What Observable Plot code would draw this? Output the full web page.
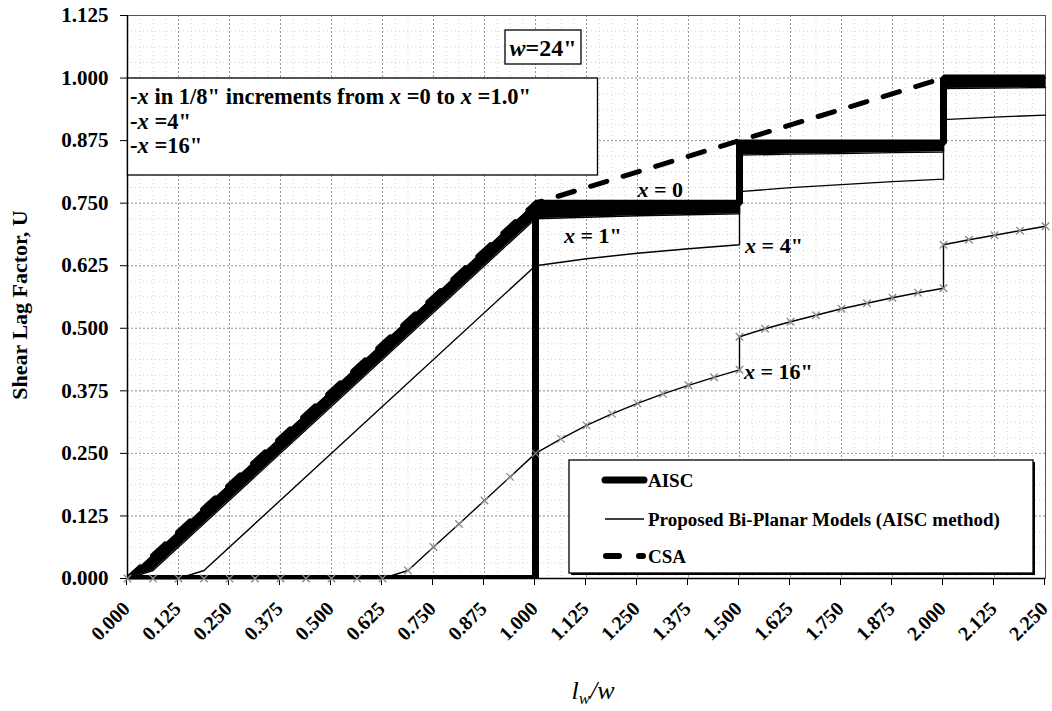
<!DOCTYPE html>
<html>
<head>
<meta charset="utf-8">
<script src="https://cdn.jsdelivr.net/npm/d3@7"></script>
<script src="https://cdn.jsdelivr.net/npm/@observablehq/plot@0.6"></script>
<style>
  html, body { margin: 0; padding: 0; background: #fff; }
  svg { display: block; }
</style>
</head>
<body>
<div id="chart"></div>
<script>
// ---------- data ----------
const lwTicks = [0, 0.125, 0.25, 0.375, 0.5, 0.625, 0.75, 0.875, 1.0, 1.125, 1.25, 1.375, 1.5, 1.625, 1.75, 1.875, 2.0, 2.125, 2.25];
const lwTickLabels = ["0.000","0.125","0.250","0.375","0.500","0.625","0.750","0.875","1.000","1.125","1.250","1.375","1.500","1.625","1.750","1.875","2.000","2.125","2.250"];
const uTicks = [0, 0.125, 0.25, 0.375, 0.5, 0.625, 0.75, 0.875, 1.0, 1.125];
const uTickLabels = ["0.000","0.125","0.250","0.375","0.500","0.625","0.750","0.875","1.000","1.125"];

// AISC (thick)
const aiscLw = [0, 1.0, 1.0, 1.5, 1.5, 2.0, 2.0, 2.25];
const aiscU  = [0, 0,   0.75, 0.75, 0.87, 0.87, 1.0, 1.0];

// CSA (dashed)
const csaLw = [0, 1.0, 2.0, 2.25];
const csaU  = [0, 0.75, 1.0, 1.0];

// Proposed bi-planar models, x = 0 ... 1.0" (band between x = 0 and x = 1")
const bandLw      = [0, 0.0625, 1.0, 1.125, 1.25, 1.375, 1.5, 1.5, 1.625, 1.75, 1.875, 2.0, 2.0, 2.125, 2.25];
const bandTopU    = [0, 0.047, 0.75, 0.75, 0.75, 0.75, 0.75, 0.87, 0.87, 0.87, 0.87, 0.87, 1.0, 1.0, 1.0];
const bandBottomU = [0, 0.016, 0.719, 0.722, 0.725, 0.727, 0.729, 0.846, 0.848, 0.849, 0.851, 0.852, 0.979, 0.980, 0.981];

// Proposed bi-planar model, x = 4"
const x4Lw = [0, 0.125, 0.1875, 1.0, 1.125, 1.25, 1.375, 1.5, 1.5, 1.625, 1.75, 1.875, 2.0, 2.0, 2.125, 2.25];
const x4U  = [0, 0, 0.016, 0.625, 0.639, 0.65, 0.659, 0.667, 0.773, 0.781, 0.787, 0.793, 0.798, 0.917, 0.922, 0.926];

// Proposed bi-planar model, x = 16" (with markers)
const x16Lw = [0, 0.0625, 0.125, 0.1875, 0.25, 0.3125, 0.375, 0.4375, 0.5, 0.5625, 0.625, 0.6875, 0.75, 0.8125, 0.875, 0.9375, 1.0, 1.0625, 1.125, 1.1875, 1.25, 1.3125, 1.375, 1.4375, 1.5, 1.5, 1.5625, 1.625, 1.6875, 1.75, 1.8125, 1.875, 1.9375, 2.0, 2.0, 2.0625, 2.125, 2.1875, 2.25];
const x16U  = [0, 0, 0, 0, 0, 0, 0, 0, 0, 0, 0, 0.016, 0.063, 0.109, 0.156, 0.203, 0.25, 0.279, 0.306, 0.329, 0.35, 0.369, 0.386, 0.402, 0.417, 0.483, 0.499, 0.513, 0.526, 0.539, 0.55, 0.561, 0.571, 0.58, 0.667, 0.677, 0.686, 0.695, 0.704];

// curve labels
const curveLabels = [
  {lw: 1.307, u: 0.776, text: " = 0", anchor: "middle"},
  {lw: 1.142, u: 0.684, text: " = 1\"", anchor: "middle"},
  {lw: 1.515, u: 0.665, text: " = 4\"", anchor: "start"},
  {lw: 1.512, u: 0.414, text: " = 16\"", anchor: "start"}
];

// ---------- build tables ----------
const zip = (xs, ys) => xs.map((x, i) => ({lw: x, u: ys[i]}));
const aisc = zip(aiscLw, aiscU);
const csa = zip(csaLw, csaU);
const band = bandLw.map((x, i) => ({lw: x, top: bandTopU[i], bottom: bandBottomU[i]}));
const bandTop = zip(bandLw, bandTopU);
const bandBottom = zip(bandLw, bandBottomU);
const x4 = zip(x4Lw, x4U);
const x16 = zip(x16Lw, x16U);

const minorLw = d3.range(0, 2.25 + 1e-9, 0.03125);
const minorU = d3.range(0, 1.125 + 1e-9, 0.03125);

const lwLabelMap = new Map(lwTicks.map((t, i) => [t, lwTickLabels[i]]));
const uLabelMap = new Map(uTicks.map((t, i) => [t, uTickLabels[i]]));

const FONT = "Liberation Serif, Times New Roman, serif";

const chart = Plot.plot({
  width: 1052,
  height: 711,
  marginLeft: 127,
  marginRight: 7,
  marginTop: 15,
  marginBottom: 133,
  style: {fontFamily: FONT, color: "#000", background: "#fff"},
  x: {domain: [0, 2.25]},
  y: {domain: [0, 1.125]},
  marks: [
    Plot.gridX(minorLw, {stroke: "#d4d4d4", strokeOpacity: 1, strokeDasharray: "1,3"}),
    Plot.gridY(minorU, {stroke: "#d4d4d4", strokeOpacity: 1, strokeDasharray: "1,3"}),
    Plot.gridX(lwTicks, {stroke: "#999", strokeOpacity: 1, strokeDasharray: "2,2"}),
    Plot.gridY(uTicks, {stroke: "#999", strokeOpacity: 1, strokeDasharray: "2,2"}),
    Plot.frame({stroke: "#555", strokeWidth: 1}),
    Plot.ruleX([0], {stroke: "#000", strokeWidth: 1.5}),
    Plot.ruleY([0], {stroke: "#000", strokeWidth: 1.5}),
    Plot.axisX({ticks: lwTicks, tickFormat: d => lwLabelMap.get(d), tickRotate: -45, tickSize: 7, tickPadding: 20,
      fontSize: 20, fontWeight: "bold", dx: -1, label: null}),
    Plot.axisY({ticks: uTicks, tickFormat: d => uLabelMap.get(d), tickSize: 7, tickPadding: 12,
      fontSize: 21, fontWeight: "bold", label: null}),
    // x = 16" model
    Plot.line(x16, {x: "lw", y: "u", stroke: "#000", strokeWidth: 1.4}),
    // x = 4" model
    Plot.line(x4, {x: "lw", y: "u", stroke: "#000", strokeWidth: 1.4}),
    // x = 0 .. 1" models (band)
    Plot.areaY(band, {x: "lw", y1: "bottom", y2: "top", fill: "#000", curve: "linear"}),
    Plot.line(bandTop, {x: "lw", y: "u", stroke: "#000", strokeWidth: 1.4}),
    Plot.line(bandBottom, {x: "lw", y: "u", stroke: "#000", strokeWidth: 1.4}),
    // AISC
    Plot.line(aisc, {x: "lw", y: "u", stroke: "#000", strokeWidth: 7, strokeLinejoin: "miter", strokeLinecap: "butt", clip: true}),
    // CSA
    Plot.line(csa, {x: "lw", y: "u", stroke: "#000", strokeWidth: 5, strokeDasharray: "17,17", strokeLinecap: "round", clip: true}),
    // markers on x = 16"
    Plot.dot(x16, {x: "lw", y: "u", symbol: "times", r: 3.5, stroke: "#8a8a8a", strokeWidth: 1.3})
  ]
});

document.getElementById("chart").appendChild(chart);

// ---------- annotations ----------
const svg = d3.select(chart);
const sx = chart.scale("x"), sy = chart.scale("y");

// info box
const g1 = svg.append("g").attr("font-family", FONT).attr("font-weight", "bold").attr("font-size", 22.5)
  .attr("text-anchor", "start");
g1.append("rect").attr("x", 127.5).attr("y", 78).attr("width", 470).attr("height", 97)
  .attr("fill", "#fff").attr("stroke", "#000").attr("stroke-width", 1.3);
const infoLines = [
  ["-", {i: "x"}, " in 1/8\" increments from ", {i: "x"}, " =0 to ", {i: "x"}, " =1.0\""],
  ["-", {i: "x"}, " =4\""],
  ["-", {i: "x"}, " =16\""]
];
infoLines.forEach((parts, k) => {
  const t = g1.append("text").attr("x", 130).attr("y", 104 + k * 24.5).attr("text-anchor", "start");
  parts.forEach(p => {
    if (typeof p === "string") t.append("tspan").text(p);
    else t.append("tspan").attr("font-style", "italic").text(p.i);
  });
});

// w = 24" box
const g2 = svg.append("g").attr("font-family", FONT).attr("font-weight", "bold").attr("font-size", 24);
g2.append("rect").attr("x", 505).attr("y", 30).attr("width", 76).attr("height", 34)
  .attr("fill", "#fff").attr("stroke", "#000").attr("stroke-width", 1.3);
const wt = g2.append("text").attr("x", 543).attr("y", 56).attr("text-anchor", "middle");
wt.append("tspan").attr("font-style", "italic").text("w");
wt.append("tspan").text("=24\"");

// curve labels
const g3 = svg.append("g").attr("font-family", FONT).attr("font-weight", "bold").attr("font-size", 22);
curveLabels.forEach(d => {
  const t = g3.append("text").attr("x", sx.apply(d.lw)).attr("y", sy.apply(d.u))
    .attr("dy", "0.35em").attr("text-anchor", d.anchor);
  t.append("tspan").attr("font-style", "italic").text("x");
  t.append("tspan").text(d.text);
});

// legend
const g4 = svg.append("g").attr("font-family", FONT).attr("font-weight", "bold").attr("font-size", 19)
  .attr("text-anchor", "start");
g4.append("rect").attr("x", 571).attr("y", 462).attr("width", 464).attr("height", 113).attr("fill", "#000");
g4.append("rect").attr("x", 569).attr("y", 460).attr("width", 464).attr("height", 113)
  .attr("fill", "#fff").attr("stroke", "#000").attr("stroke-width", 1.3);
const legendItems = [
  {name: "AISC", y: 480, w: 7, dash: null},
  {name: "Proposed Bi-Planar Models (AISC method)", y: 519, w: 1.5, dash: null},
  {name: "CSA", y: 556, w: 6, dash: "13,20"}
];
legendItems.forEach(d => {
  const ln = g4.append("line").attr("x1", d.dash ? 606 : 605).attr("x2", d.dash ? 643 : 644)
    .attr("y1", d.y).attr("y2", d.y).attr("stroke", "#000").attr("stroke-width", d.w)
    .attr("stroke-linecap", d.w > 2 ? "round" : "butt");
  if (d.dash) ln.attr("stroke-dasharray", d.dash);
  g4.append("text").attr("x", 648).attr("y", d.y + 7).attr("text-anchor", "start").text(d.name);
});

// axis titles
svg.append("text").attr("font-family", FONT).attr("font-weight", "bold").attr("font-size", 22)
  .attr("text-anchor", "middle").attr("transform", "translate(27,305) rotate(-90)")
  .text("Shear Lag Factor, U");
const xt = svg.append("text").attr("font-family", FONT).attr("font-style", "italic").attr("font-size", 26)
  .attr("text-anchor", "middle").attr("x", 593).attr("y", 699);
xt.append("tspan").text("l");
xt.append("tspan").attr("font-size", 17).attr("dy", 5).text("w");
xt.append("tspan").attr("dy", -5).text("/w");
</script>
</body>
</html>
